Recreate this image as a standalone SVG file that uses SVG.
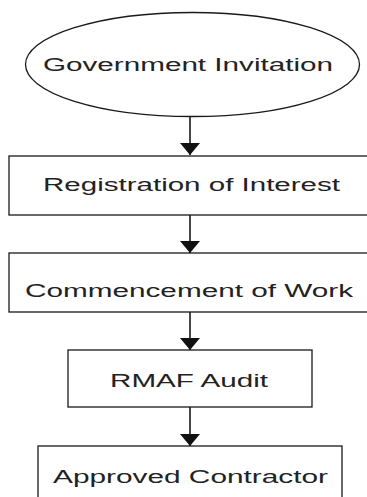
<svg xmlns="http://www.w3.org/2000/svg" width="367" height="497" viewBox="0 0 367 497">
  <style>
    .shape { fill: #ffffff; stroke: #1a1a1a; stroke-width: 1.3; }
    .label { font-family: "Liberation Sans", Arial, sans-serif; font-size: 17.5px; fill: #222222; }
    .link { stroke: #1a1a1a; stroke-width: 1.6; fill: none; }
  </style>
  <defs>
    <!-- downward flow arrowhead: 12 long, 20 wide -->
    <marker id="arrow" viewBox="0 0 12 20" refX="12" refY="10" markerWidth="12" markerHeight="20" markerUnits="userSpaceOnUse" orient="auto">
      <path d="M0,0 L12,10 L0,20 Z" fill="#111111"/>
    </marker>
  </defs>
  <rect width="367" height="497" fill="#ffffff"/>

  <g id="connectors">
    <line class="link" x1="190" y1="117" x2="190" y2="155" marker-end="url(#arrow)"/>
    <line class="link" x1="190" y1="215" x2="190" y2="253" marker-end="url(#arrow)"/>
    <line class="link" x1="190" y1="312" x2="190" y2="350" marker-end="url(#arrow)"/>
    <line class="link" x1="190" y1="407" x2="190" y2="446" marker-end="url(#arrow)"/>
  </g>

  <g id="government-invitation">
    <ellipse class="shape" cx="192.5" cy="64.5" rx="167" ry="52"/>
    <text class="label" x="43" y="71" textLength="290" lengthAdjust="spacingAndGlyphs">Government Invitation</text>
  </g>

  <g id="registration-of-interest">
    <rect class="shape" x="9" y="156" width="370" height="59"/>
    <text class="label" x="43" y="191" textLength="297" lengthAdjust="spacingAndGlyphs">Registration of Interest</text>
  </g>

  <g id="commencement-of-work">
    <rect class="shape" x="9" y="253" width="370" height="59"/>
    <text class="label" x="25" y="297" textLength="328" lengthAdjust="spacingAndGlyphs">Commencement of Work</text>
  </g>

  <g id="rmaf-audit">
    <rect class="shape" x="68" y="350" width="244" height="57"/>
    <text class="label" x="110" y="387" textLength="158" lengthAdjust="spacingAndGlyphs">RMAF Audit</text>
  </g>

  <g id="approved-contractor">
    <rect class="shape" x="38" y="446" width="304" height="60"/>
    <text class="label" x="53" y="483" textLength="275" lengthAdjust="spacingAndGlyphs">Approved Contractor</text>
  </g>
</svg>
